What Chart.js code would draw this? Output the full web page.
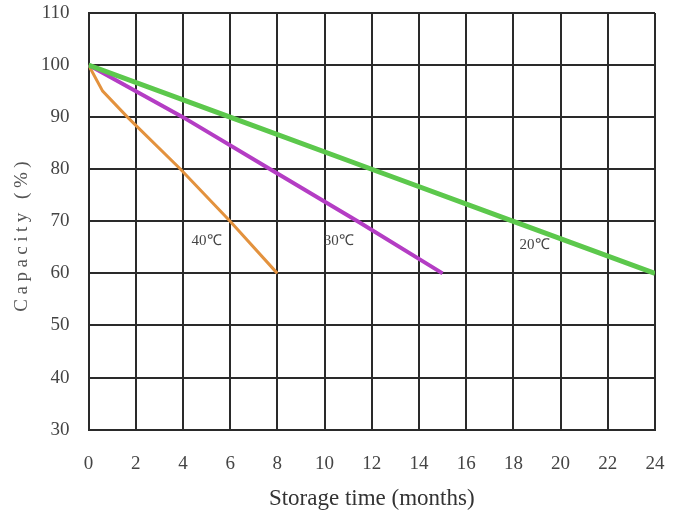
<!DOCTYPE html>
<html lang="en">
<head>
    <meta charset="UTF-8">
    <title>Capacity vs Storage Time</title>
    <script src="https://cdn.jsdelivr.net/npm/chart.js"></script>
    <style>
        body { margin: 0; background: #fff; }
        #wrap { width: 681px; height: 523px; }
    </style>
</head>
<body>
    <div id="wrap"><canvas id="capChart"></canvas></div>

    <script>
        // storage time (months) / capacity (%)
        const months20 = [0, 6, 12, 18, 24];
        const cap20 = [100, 90, 80, 70, 60];
        const months30 = [0, 4, 7.7, 11.4, 15];
        const cap30 = [100, 90, 80, 70, 60];
        const months40 = [0, 0.6, 1.65, 3.9, 6, 8];
        const cap40 = [100, 95, 90, 80, 70, 60];

        const seriesNames = ['20℃', '30℃', '40℃'];
        // where the temperature labels sit, in data units
        const labelMonths = [18.9, 10.6, 5.0];
        const labelCaps = [65.5, 66.3, 66.3];

        const xTicks = [0, 2, 4, 6, 8, 10, 12, 14, 16, 18, 20, 22, 24];
        const yTicks = [30, 40, 50, 60, 70, 80, 90, 100, 110];
        const yTitle = 'Capacity (%)';

        function pts(xs, ys) {
            return xs.map((x, i) => ({ x: x, y: ys[i] }));
        }

        const extraText = {
            id: 'extraText',
            afterDatasetsDraw(chart) {
                const ctx = chart.ctx;
                const xs = chart.scales.x, ys = chart.scales.y;
                ctx.save();
                ctx.font = '15px "Liberation Serif"';
                ctx.fillStyle = '#444';
                ctx.textAlign = 'center';
                ctx.textBaseline = 'middle';
                seriesNames.forEach((name, i) => {
                    ctx.fillText(name, xs.getPixelForValue(labelMonths[i]), ys.getPixelForValue(labelCaps[i]));
                });
                ctx.restore();

                // y title, spaced out like the original
                ctx.save();
                ctx.translate(22, (chart.chartArea.top + chart.chartArea.bottom) / 2 + 13);
                ctx.rotate(-Math.PI / 2);
                ctx.font = '19px "Liberation Serif"';
                ctx.letterSpacing = '4.5px';
                ctx.fillStyle = '#555';
                ctx.textAlign = 'center';
                ctx.textBaseline = 'middle';
                ctx.fillText(yTitle, 0, 0);
                ctx.restore();
            }
        };

        const ctx = document.getElementById('capChart').getContext('2d');
        const capChart = new Chart(ctx, {
            type: 'line',
            data: {
                datasets: [
                    { label: seriesNames[0], data: pts(months20, cap20), borderColor: '#5cc84c', borderWidth: 5 },
                    { label: seriesNames[1], data: pts(months30, cap30), borderColor: '#b43dc4', borderWidth: 4 },
                    { label: seriesNames[2], data: pts(months40, cap40), borderColor: '#e3923e', borderWidth: 3 }
                ]
            },
            options: {
                responsive: true,
                maintainAspectRatio: false,
                animation: false,
                elements: { point: { radius: 0 }, line: { tension: 0 } },
                layout: { padding: { top: 13, right: 26, left: 22, bottom: 10 } },
                plugins: { legend: { display: false }, tooltip: { enabled: false } },
                scales: {
                    x: {
                        type: 'linear',
                        min: 0, max: 24,
                        afterBuildTicks: s => { s.ticks = xTicks.map(v => ({ value: v })); },
                        afterFit: s => { s.paddingLeft = 0; s.paddingRight = 0; },
                        grid: { color: '#2a2a2a', lineWidth: 2, drawTicks: false },
                        border: { color: '#2a2a2a', width: 2 },
                        ticks: { padding: 23, color: '#444', font: { family: 'Liberation Serif', size: 19 } },
                        title: {
                            display: true, text: 'Storage time (months)', color: '#333',
                            font: { family: 'Liberation Serif', size: 23 }, padding: { top: -13, bottom: 0 }
                        }
                    },
                    y: {
                        min: 30, max: 110,
                        afterBuildTicks: s => { s.ticks = yTicks.map(v => ({ value: v })); },
                        afterFit: s => { s.paddingTop = 0; s.paddingBottom = 0; },
                        grid: { color: '#2a2a2a', lineWidth: 2, drawTicks: false },
                        border: { color: '#2a2a2a', width: 2 },
                        ticks: { padding: 19, color: '#444', font: { family: 'Liberation Serif', size: 19 } }
                    }
                }
            },
            plugins: [extraText]
        });
    </script>
</body>
</html>
